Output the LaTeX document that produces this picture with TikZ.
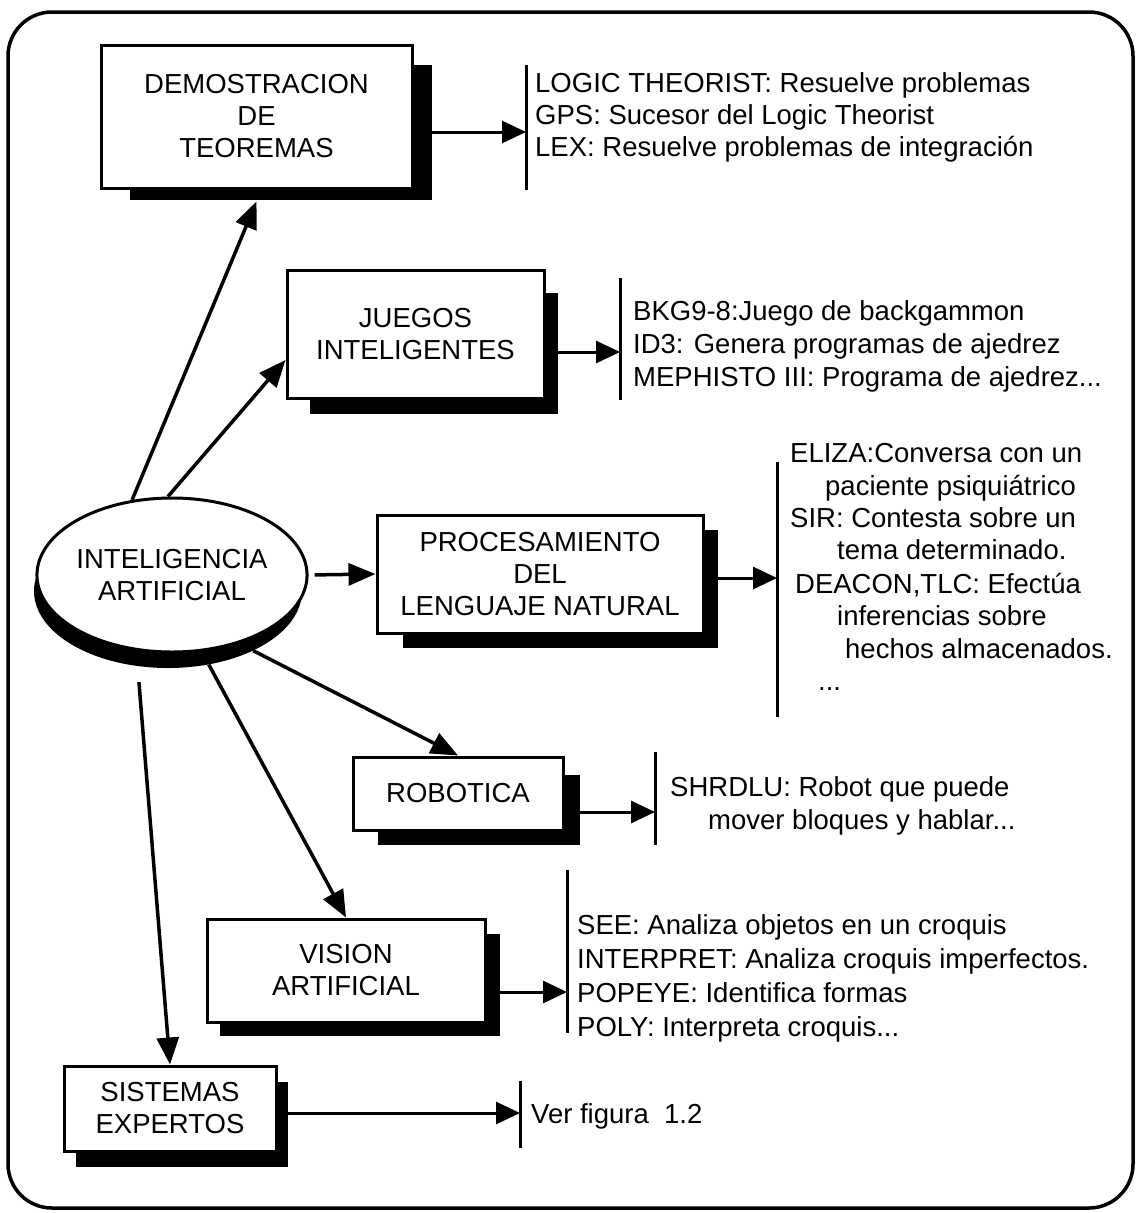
\documentclass[tikz,border=0pt]{standalone}
\usepackage{fontspec}
\setmainfont{Liberation Sans}
\usetikzlibrary{arrows.meta,shapes.geometric,backgrounds,calc}
\begin{document}
\begin{tikzpicture}[x=1pt,y=-1pt,
  every node/.style={font=\fontsize{27.5}{32}\selectfont, inner sep=0pt},
  topic/.style={draw, line width=3pt, fill=white, align=center},
  shade/.style={fill=black, draw=none, inner sep=0pt},
  arr/.style={line width=3.5pt, -{Triangle[length=27pt,width=22pt]}},
  feed/.style={line width=3pt, -{Triangle[length=24pt,width=22pt]}},
  bar/.style={line width=3pt},
  item/.style={anchor=base west},
]
\useasboundingbox (0,0) rectangle (1140,1213);

% outer frame
\draw[line width=3.5pt, rounded corners=44pt] (8,12) rectangle (1133,1208);

% central ellipse
\node[draw, line width=3pt, fill=white, ellipse, minimum width=268, minimum height=154,
      align=center] (ia) at (172,575) {INTELIGENCIA\\ARTIFICIAL};

% topic boxes
\node[topic, minimum width=311, minimum height=143] (demo) at (256.5,116.5) {DEMOSTRACION\\DE\\TEOREMAS};
\node[topic, minimum width=257, minimum height=128] (jue)  at (415.5,334)   {JUEGOS\\INTELIGENTES};
\node[topic, minimum width=326, minimum height=118] (proc) at (540,574)     {PROCESAMIENTO\\DEL\\LENGUAJE NATURAL};
\node[topic, minimum width=210, minimum height=73]  (rob)  at (458,793.5)   {ROBOTICA};
\node[topic, minimum width=278, minimum height=103] (vis)  at (346,970.5)   {VISION\\ARTIFICIAL};
\node[topic, minimum width=212, minimum height=85]  (sis)  at (170,1108.5)  {SISTEMAS\\EXPERTOS};

% drop shadows
\begin{scope}[on background layer]
  \node[shade, ellipse, minimum width=268, minimum height=154] (iash) at (168,591) {};
  \node[shade, minimum width=302, minimum height=135] (demosh) at (281,132.5) {};
  \node[shade, minimum width=248, minimum height=121] (juesh)  at (434,353.5) {};
  \node[shade, minimum width=315, minimum height=118] (procsh) at (560.5,589) {};
  \node[shade, minimum width=202, minimum height=70]  (robsh)  at (479,810)   {};
  \node[shade, minimum width=280, minimum height=102] (vissh)  at (360,985)   {};
  \node[shade, minimum width=212, minimum height=85]  (sissh)  at (182,1124.5) {};
\end{scope}

% branches from the ellipse
\draw[arr] (ia.118) -- ([yshift=-12pt]demo.south);
\draw[arr] (ia.93) -- ([yshift=-26pt]jue.west);
\draw[arr, shorten <=6pt] (ia.east) -- (proc.west);
\draw[arr] (iash.-35) -- (rob.north);
\draw[arr] (iash.-61) -- (vis.north);
\draw[arr, shorten <=16pt] (iash.-112) -- (sis.north);

% example lists: bar, arrow, entries
\coordinate (l1) at (526,132);  \coordinate (l1t) at (526,65);  \coordinate (l1b) at (526,190);
\coordinate (l2) at (620,352);  \coordinate (l2t) at (620,278); \coordinate (l2b) at (620,400);
\coordinate (l3) at (777,578);  \coordinate (l3t) at (777,462); \coordinate (l3b) at (777,717);
\coordinate (l4) at (655,812);  \coordinate (l4t) at (655,752); \coordinate (l4b) at (655,845);
\coordinate (l5) at (567,992);  \coordinate (l5t) at (567,870); \coordinate (l5b) at (567,1033);
\coordinate (l6) at (520,1113); \coordinate (l6t) at (520,1081); \coordinate (l6b) at (520,1148);

\foreach \l in {l1,l2,l3,l4,l5,l6} { \draw[bar] (\l t) -- (\l b); }

\draw[feed] (demosh.east |- l1) -- (l1);
\draw[feed] (juesh.east |- l2) -- (l2);
\draw[feed] (procsh.east |- l3) -- (l3);
\draw[feed] (robsh.east |- l4) -- (l4);
\draw[feed] (vissh.east |- l5) -- (l5);
\draw[feed] (sissh.east |- l6) -- (l6);

\node[item] (t1a) at (535,92)  {LOGIC THEORIST: Resuelve problemas};
\node[item] (t1b) at (535,124) {GPS: Sucesor del Logic Theorist};
\node[item] (t1c) at (535,156) {LEX: Resuelve problemas de integración};

\node[item] (t2a) at (633,320) {BKG9-8:Juego de backgammon};
\node[item] (t2b) at (633,353) {ID3: Genera programas de ajedrez};
\node[item] (t2c) at (633,386) {MEPHISTO III: Programa de ajedrez...};

\node[item] (t3a) at (790,462) {ELIZA:Conversa con un};
\node[item] (t3b) at (825,495) {paciente psiquiátrico};
\node[item] (t3c) at (790,527) {SIR: Contesta sobre un};
\node[item] (t3d) at (837,559) {tema determinado.};
\node[item] (t3e) at (795,593) {DEACON,TLC: Efectúa};
\node[item] (t3f) at (837,625) {inferencias sobre};
\node[item] (t3g) at (845,658) {hechos almacenados.};
\node[item] (t3h) at (818,690) {...};

\node[item] (t4a) at (670,796) {SHRDLU: Robot que puede};
\node[item] (t4b) at (708,829) {mover bloques y hablar...};

\node[item] (t5a) at (577,934)  {SEE: Analiza objetos en un croquis};
\node[item] (t5b) at (577,968)  {INTERPRET: Analiza croquis imperfectos.};
\node[item] (t5c) at (577,1002) {POPEYE: Identifica formas};
\node[item] (t5d) at (577,1036) {POLY: Interpreta croquis...};

\node[item] (t6a) at (531,1123) {Ver figura\ \ 1.2};
\end{tikzpicture}
\end{document}
